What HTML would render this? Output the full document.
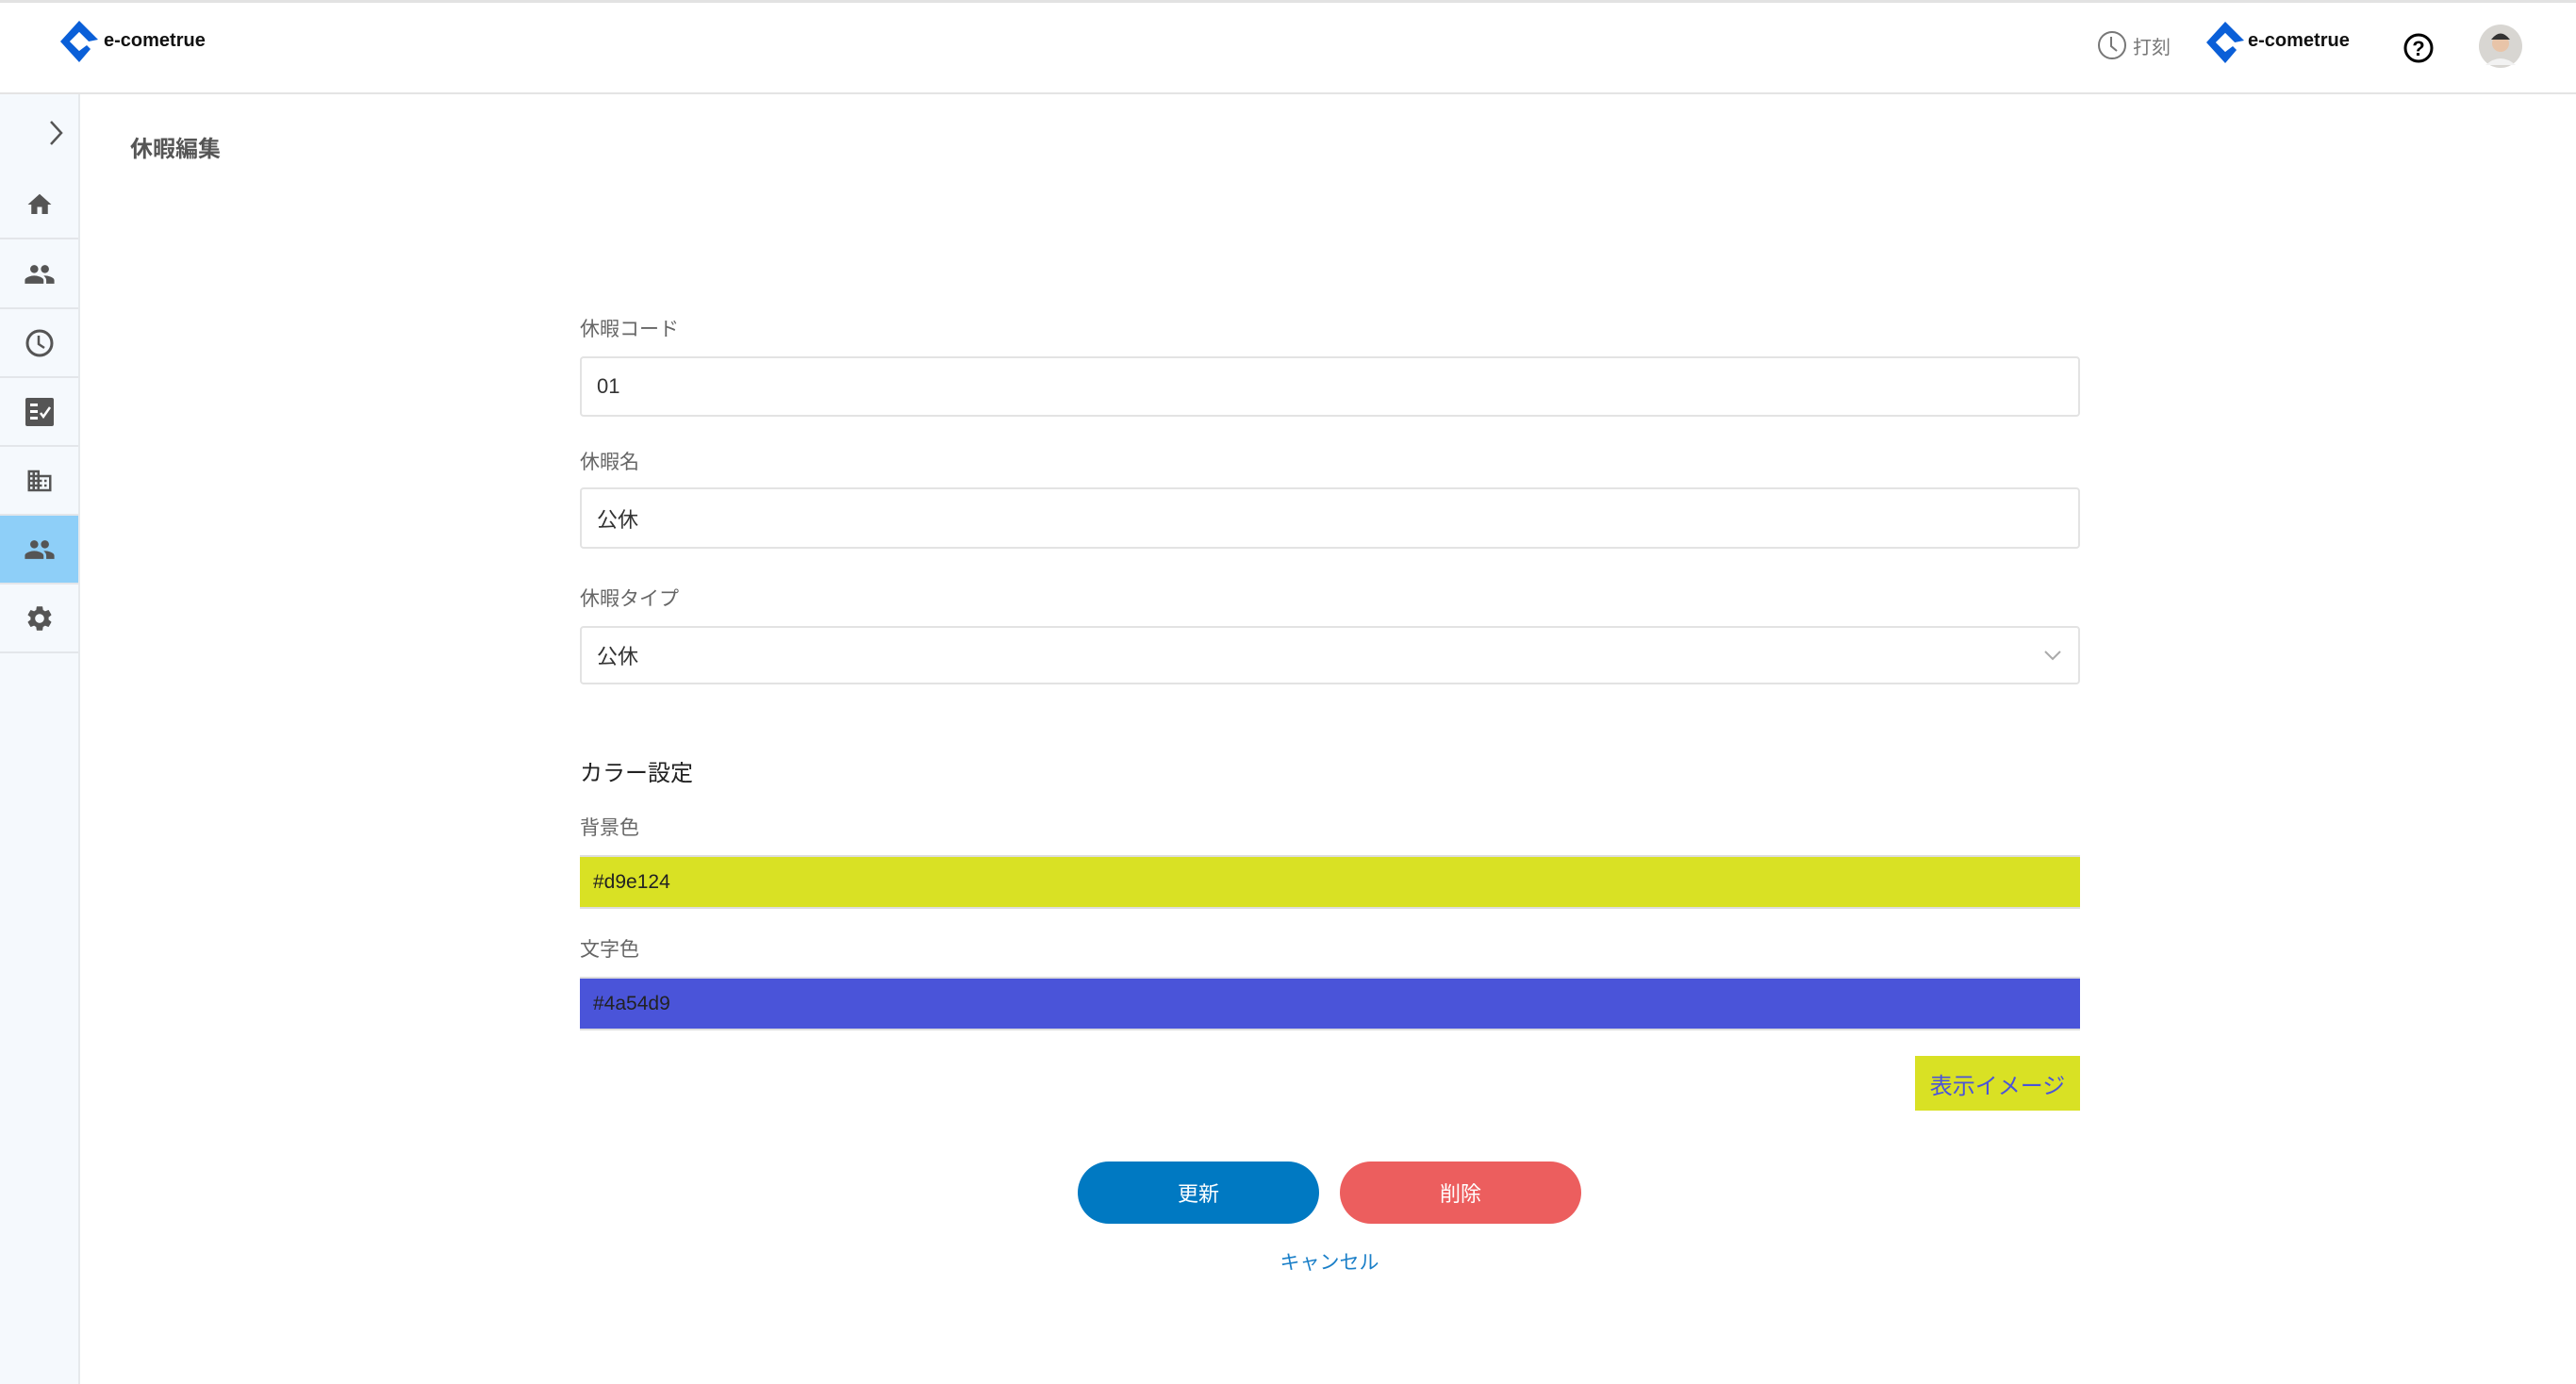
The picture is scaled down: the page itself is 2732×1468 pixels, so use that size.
<!DOCTYPE html>
<html><head><meta charset="utf-8"><style>
*{margin:0;padding:0;box-sizing:border-box}
body{width:2732px;height:1468px;background:#fff;position:relative;overflow:hidden;font-family:"Liberation Sans","Noto Sans CJK JP",sans-serif}
.a{position:absolute}
.hdr{left:0;top:0;width:2732px;height:100px;border-top:3px solid #e2e2e2;border-bottom:2px solid #e4e4e4;background:#fff}
.side{left:0;top:100px;width:85px;height:1368px;background:#f5f9fd;border-right:2px solid #e6e9ec}
.item{position:absolute;left:0;width:83px;height:73px;border-bottom:2px solid #e3e6ea;display:flex;align-items:center;justify-content:center}
.lbl{left:615px;font-size:21px;color:#666}
.inp{left:615px;width:1591px;border:2px solid #e3e3e3;border-radius:4px;font-size:22px;color:#333;padding-left:16px;display:flex;align-items:center}
.bar{left:615px;width:1591px;height:57px;border-top:2px solid #ddd;border-bottom:2px solid #ddd;font-size:21px;color:#222;padding-left:14px;display:flex;align-items:center}
.btn{top:1232px;width:256px;height:66px;border-radius:33px;color:#fff;font-size:22px;display:flex;align-items:center;justify-content:center}
</style></head><body>
<div class="a hdr"></div>
<svg class="a" style="left:64px;top:22px" width="40" height="44" viewBox="0 0 40 44"><path d="M20 0 L40 20 L30 22 L20 12 L10 22 L20 32 L28 26 L32 30 L20 44 L0 22 Z" fill="#0a5fd8"/><path d="M20 12 L30 22 L20 32 L10 22Z" fill="#fff"/></svg>
<div class="a" style="left:110px;top:32px;font-size:20px;font-weight:bold;color:#111">e-cometrue</div>
<svg class="a" style="left:2224px;top:32px" width="32" height="32"><circle cx="16" cy="16" r="14" fill="none" stroke="#777" stroke-width="2"/><path d="M15 7 L15 17 L21 22" fill="none" stroke="#777" stroke-width="2"/></svg>
<div class="a" style="left:2262px;top:34px;font-size:20px;color:#777">打刻</div>
<svg class="a" style="left:2340px;top:23px" width="40" height="44" viewBox="0 0 40 44"><path d="M20 0 L40 20 L30 22 L20 12 L10 22 L20 32 L28 26 L32 30 L20 44 L0 22 Z" fill="#0a5fd8"/><path d="M20 12 L30 22 L20 32 L10 22Z" fill="#fff"/></svg>
<div class="a" style="left:2384px;top:32px;font-size:20px;font-weight:bold;color:#111">e-cometrue</div>
<svg class="a" style="left:2548px;top:34px" width="34" height="34"><circle cx="17" cy="17" r="14" fill="none" stroke="#000" stroke-width="3"/><text x="17" y="25" text-anchor="middle" font-size="22" font-weight="bold" font-family="Liberation Sans">?</text></svg>
<svg class="a" style="left:2628px;top:25px" width="48" height="48"><circle cx="24" cy="24" r="23" fill="#d8d6d2"/><circle cx="24" cy="21" r="9" fill="#e8c4a8"/><path d="M14 17 Q24 4 34 17 Z" fill="#333"/><path d="M8 44 Q24 30 40 44 Z" fill="#f2f2f2"/></svg>
<div class="a side">
 <svg class="a" style="left:50px;top:26px" width="20" height="30"><path d="M4 3 L15 15 L4 27" fill="none" stroke="#555" stroke-width="2.5"/></svg>
 <div class="item" style="top:81px"><svg width="30" height="30" viewBox="0 0 24 24"><path d="M10 20v-6h4v6h5v-8h3L12 3 2 12h3v8z" fill="#555"/></svg></div>
 <div class="item" style="top:155px"><svg width="34" height="34" viewBox="0 0 24 24"><path d="M16 11c1.66 0 2.99-1.34 2.99-3S17.66 5 16 5c-1.66 0-3 1.34-3 3s1.34 3 3 3zm-8 0c1.66 0 2.99-1.34 2.99-3S9.66 5 8 5C6.34 5 5 6.34 5 8s1.34 3 3 3zm0 2c-2.33 0-7 1.17-7 3.5V19h14v-2.5c0-2.33-4.67-3.5-7-3.5zm8 0c-.29 0-.62.02-.97.05 1.16.84 1.97 1.97 1.97 3.45V19h6v-2.5c0-2.33-4.67-3.5-7-3.5z" fill="#555"/></svg></div>
 <div class="item" style="top:228px"><svg width="32" height="32"><circle cx="16" cy="16" r="13" fill="none" stroke="#555" stroke-width="3"/><path d="M15 8 L15 17 L21 21" fill="none" stroke="#555" stroke-width="2.5"/></svg></div>
 <div class="item" style="top:301px"><svg width="30" height="30"><rect x="0" y="0" width="30" height="30" rx="2" fill="#555"/><rect x="5" y="6" width="8" height="3" fill="#fff"/><rect x="5" y="13" width="8" height="3" fill="#fff"/><rect x="5" y="20" width="8" height="3" fill="#fff"/><path d="M16 16 L19 20 L26 10" fill="none" stroke="#fff" stroke-width="2.5"/></svg></div>
 <div class="item" style="top:374px"><svg width="30" height="30" viewBox="0 0 24 24"><path d="M12 7V3H2v18h20V7H12zM6 19H4v-2h2v2zm0-4H4v-2h2v2zm0-4H4V9h2v2zm0-4H4V5h2v2zm4 12H8v-2h2v2zm0-4H8v-2h2v2zm0-4H8V9h2v2zm0-4H8V5h2v2zm10 12h-8v-2h2v-2h-2v-2h2v-2h-2V9h8v10zm-2-8h-2v2h2v-2zm0 4h-2v2h2v-2z" fill="#555"/></svg></div>
 <div class="item" style="top:447px;background:#8ecff8"><svg width="34" height="34" viewBox="0 0 24 24"><path d="M16 11c1.66 0 2.99-1.34 2.99-3S17.66 5 16 5c-1.66 0-3 1.34-3 3s1.34 3 3 3zm-8 0c1.66 0 2.99-1.34 2.99-3S9.66 5 8 5C6.34 5 5 6.34 5 8s1.34 3 3 3zm0 2c-2.33 0-7 1.17-7 3.5V19h14v-2.5c0-2.33-4.67-3.5-7-3.5zm8 0c-.29 0-.62.02-.97.05 1.16.84 1.97 1.97 1.97 3.45V19h6v-2.5c0-2.33-4.67-3.5-7-3.5z" fill="#555"/></svg></div>
 <div class="item" style="top:520px"><svg width="32" height="32" viewBox="0 0 24 24"><path d="M19.14 12.94c.04-.3.06-.61.06-.94 0-.32-.02-.64-.07-.94l2.03-1.58a.49.49 0 0 0 .12-.61l-1.92-3.32a.488.488 0 0 0-.59-.22l-2.39.96c-.5-.38-1.03-.7-1.62-.94l-.36-2.54a.484.484 0 0 0-.48-.41h-3.840c-.24 0-.43.17-.47.41l-.36 2.54c-.59.24-1.13.57-1.62.94l-2.39-.96c-.22-.08-.47 0-.59.22L2.74 8.870c-.12.21-.08.47.12.61l2.03 1.58c-.05.3-.09.63-.09.94s.02.64.07.94l-2.03 1.58a.49.49 0 0 0-.12.61l1.92 3.32c.12.22.37.29.59.22l2.39-.96c.5.38 1.03.7 1.62.94l.36 2.54c.05.24.24.41.48.41h3.84c.24 0 .44-.17.47-.41l.36-2.54c.59-.24 1.13-.56 1.62-.94l2.39.96c.22.08.47 0 .59-.22l1.92-3.32c.12-.22.07-.47-.12-.61l-2.01-1.58zM12 15.6c-1.98 0-3.6-1.62-3.6-3.6s1.62-3.6 3.6-3.6 3.6 1.62 3.6 3.6-1.62 3.6-3.6 3.6z" fill="#555"/></svg></div>
</div>
<div class="a" style="left:138px;top:138px;font-size:24px;font-weight:bold;color:#555">休暇編集</div>
<div class="a lbl" style="top:333px">休暇コード</div>
<div class="a inp" style="top:378px;height:64px">01</div>
<div class="a lbl" style="top:474px">休暇名</div>
<div class="a inp" style="top:517px;height:65px">公休</div>
<div class="a lbl" style="top:619px">休暇タイプ</div>
<div class="a inp" style="top:664px;height:62px;background:#fff">公休</div>
<svg class="a" style="left:2167px;top:688px" width="20" height="14"><path d="M2 3 L10 11 L18 3" fill="none" stroke="#aaa" stroke-width="2"/></svg>
<div class="a" style="left:615px;top:800px;font-size:24px;color:#222">カラー設定</div>
<div class="a lbl" style="top:862px">背景色</div>
<div class="a bar" style="top:907px;background:#d9e124">#d9e124</div>
<div class="a lbl" style="top:991px">文字色</div>
<div class="a bar" style="top:1036px;background:#4a54d9">#4a54d9</div>
<div class="a" style="left:2031px;top:1120px;width:175px;height:58px;background:#d9e124;color:#4a54d9;font-size:24px;display:flex;align-items:center;justify-content:center">表示イメージ</div>
<div class="a btn" style="left:1143px;background:#0079c2">更新</div>
<div class="a btn" style="left:1421px;background:#ec5e5e">削除</div>
<div class="a" style="left:1310px;top:1323px;width:200px;text-align:center;font-size:21px;color:#1a7fc8">キャンセル</div>
</body></html>
